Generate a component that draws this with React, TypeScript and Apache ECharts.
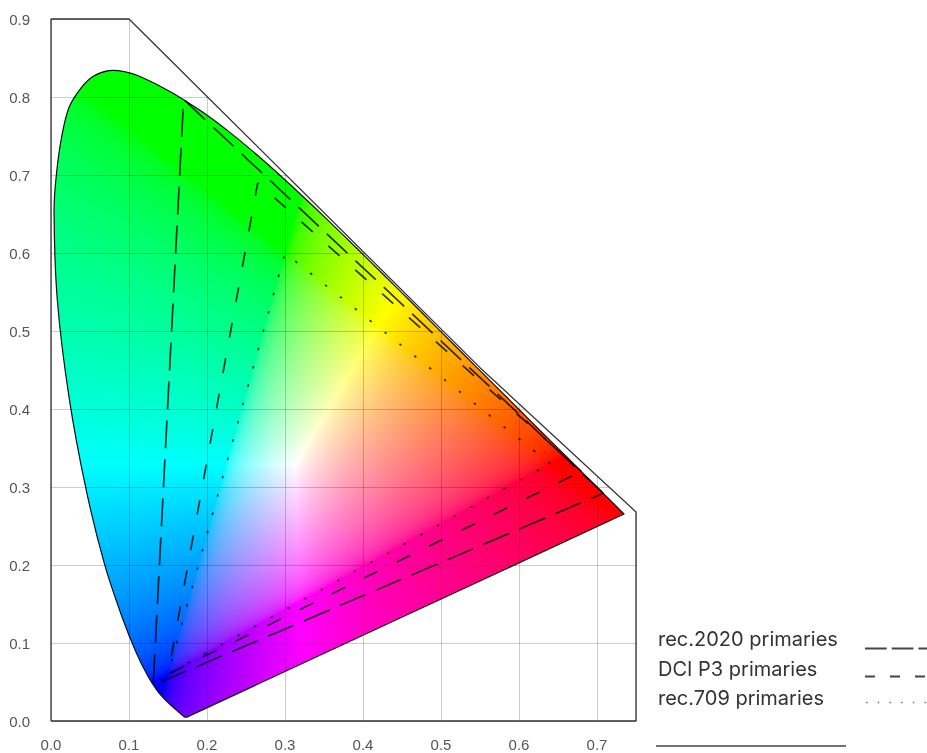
import React, { useEffect, useRef } from 'react';
import * as echarts from 'echarts';

// ---- data ----
const X_TICKS = ['0.0', '0.1', '0.2', '0.3', '0.4', '0.5', '0.6', '0.7'];
const Y_TICKS = ['0.0', '0.1', '0.2', '0.3', '0.4', '0.5', '0.6', '0.7', '0.8', '0.9'];

// CIE 1931 2° spectral locus (chromaticity x, y), 380–700 nm
const LOCUS: [number, number][] = [
  [0.1741, 0.005], [0.174, 0.005], [0.1738, 0.0049], [0.1736, 0.0049], [0.1733, 0.0048],
  [0.173, 0.0048], [0.1726, 0.0048], [0.1721, 0.0048], [0.1714, 0.0051], [0.1703, 0.0058],
  [0.1689, 0.0069], [0.1669, 0.0086], [0.1644, 0.0109], [0.1611, 0.0138], [0.1566, 0.0177],
  [0.151, 0.0227], [0.144, 0.0297], [0.1355, 0.0399], [0.1241, 0.0578], [0.1096, 0.0868],
  [0.0913, 0.1327], [0.0687, 0.2007], [0.0454, 0.295], [0.0235, 0.4127], [0.0082, 0.5384],
  [0.0039, 0.6548], [0.0072, 0.7035], [0.0139, 0.7502], [0.0232, 0.7868], [0.0389, 0.812],
  [0.0548, 0.8268], [0.0743, 0.8338], [0.094, 0.8325], [0.1142, 0.8262],
  [0.1547, 0.8059], [0.1929, 0.7816], [0.2296, 0.7543], [0.2658, 0.7243], [0.3016, 0.6923],
  [0.3373, 0.6589], [0.3731, 0.6245], [0.4087, 0.5896], [0.4441, 0.5547], [0.4788, 0.5202],
  [0.5125, 0.4866], [0.5448, 0.4544], [0.5752, 0.4242], [0.6029, 0.3965], [0.627, 0.3725],
  [0.6482, 0.3514], [0.6658, 0.334], [0.6801, 0.3197], [0.6915, 0.3083], [0.7006, 0.2993],
  [0.7079, 0.292], [0.714, 0.2859], [0.719, 0.2809], [0.723, 0.277], [0.726, 0.274],
  [0.7283, 0.2717], [0.73, 0.27], [0.7311, 0.2689], [0.732, 0.268], [0.7327, 0.2673],
  [0.7334, 0.2666], [0.734, 0.266], [0.7344, 0.2656], [0.7346, 0.2654], [0.7347, 0.2653],
];

const REC2020: [number, number][] = [[0.708, 0.292], [0.17, 0.797], [0.131, 0.046], [0.708, 0.292]];
const DCIP3: [number, number][] = [[0.68, 0.32], [0.265, 0.69], [0.15, 0.06], [0.68, 0.32]];
const REC709: [number, number][] = [[0.64, 0.33], [0.3, 0.6], [0.15, 0.06], [0.64, 0.33]];

const LEGEND_LABELS = ['rec.2020 primaries', 'DCI P3 primaries', 'rec.709 primaries'];

// ---- decoration geometry ----
const FRAME: [number, number][] = [[0, 0], [0, 0.9], [0.1, 0.9], [0.55, 0.453], [0.75, 0.268], [0.75, 0], [0, 0]];
const MASK: [number, number][] = [[0.1, 0.9], [0.55, 0.453], [0.75, 0.268], [0.78, 0.268], [0.78, 0.93], [0.1, 0.93]];
const X_MAX = 0.75;
const Y_MAX = 0.9;
const SMOOTH = 0.33;

function gammaEnc(c: number) {
  return c <= 0.0031308 ? 12.92 * c : 1.055 * Math.pow(c, 1 / 2.4) - 0.055;
}

function buildFill(): string {
  const S = 1000;
  const W = Math.round(X_MAX * S);
  const H = Math.round(Y_MAX * S);
  const canvas = document.createElement('canvas');
  canvas.width = W;
  canvas.height = H;
  const ctx = canvas.getContext('2d')!;
  const img = ctx.createImageData(W, H);
  const d = img.data;
  for (let j = 0; j < H; j++) {
    const y = (H - j - 0.5) / S;
    for (let i = 0; i < W; i++) {
      const x = (i + 0.5) / S;
      const X = x / y;
      const Z = (1 - x - y) / y;
      let r = 3.2406 * X - 1.5372 - 0.4986 * Z;
      let g = -0.9689 * X + 1.8758 + 0.0415 * Z;
      let b = 0.0557 * X - 0.204 + 1.057 * Z;
      r = Math.max(0, r); g = Math.max(0, g); b = Math.max(0, b);
      const m = Math.max(r, g, b) || 1;
      const k = (j * W + i) * 4;
      d[k] = Math.round(255 * gammaEnc(r / m));
      d[k + 1] = Math.round(255 * gammaEnc(g / m));
      d[k + 2] = Math.round(255 * gammaEnc(b / m));
      d[k + 3] = 255;
    }
  }
  ctx.putImageData(img, 0, 0);
  return canvas.toDataURL('image/png');
}

export default function App() {
  const ref = useRef<HTMLDivElement>(null);
  useEffect(() => {
    if (!ref.current) return;
    const chart = echarts.init(ref.current, undefined, { renderer: 'svg' });
    const fillUrl = buildFill();
    const lineColor = 'rgba(0,0,0,0.78)';
    const axisLabel = (ticks: string[]) => ({
      fontFamily: 'Liberation Sans, Arial, sans-serif',
      fontSize: 15,
      color: '#555',
      formatter: (v: number) => {
        const idx = Math.round(v * 10);
        return Math.abs(v * 10 - idx) < 1e-6 && ticks[idx] !== undefined ? ticks[idx] : '';
      },
    });
    chart.setOption({
      animation: false,
      grid: { left: 51, top: 19, right: 291, bottom: 32, containLabel: false },
      xAxis: {
        type: 'value', min: 0, max: X_MAX, interval: 0.1, z: 3,
        axisLine: { show: false }, axisTick: { show: false },
        splitLine: { show: true, lineStyle: { color: 'rgba(0,0,0,0.2)', width: 1 } },
        axisLabel: { ...axisLabel(X_TICKS), margin: 16 },
      },
      yAxis: {
        type: 'value', min: 0, max: Y_MAX, interval: 0.1, z: 3,
        axisLine: { show: false }, axisTick: { show: false },
        splitLine: { show: true, lineStyle: { color: 'rgba(0,0,0,0.2)', width: 1 } },
        axisLabel: { ...axisLabel(Y_TICKS), margin: 21 },
      },
      series: [
        {
          type: 'custom', coordinateSystem: 'cartesian2d', z: 1, silent: true, clip: false,
          data: [[0, 0]],
          renderItem: (_p: any, api: any) => {
            const pts = LOCUS.map((p) => api.coord(p));
            const tl = api.coord([0, Y_MAX]);
            const br = api.coord([X_MAX, 0]);
            return {
              type: 'image',
              style: { image: fillUrl, x: tl[0], y: tl[1], width: br[0] - tl[0], height: br[1] - tl[1] },
              clipPath: { type: 'polygon', shape: { points: pts, smooth: SMOOTH } },
            };
          },
        },
        {
          type: 'custom', coordinateSystem: 'cartesian2d', z: 4, silent: true, clip: false,
          data: [[0, 0]],
          renderItem: (_p: any, api: any) => ({
            type: 'polygon',
            shape: { points: MASK.map((p) => api.coord(p)) },
            style: { fill: '#ffffff', stroke: null },
          }),
        },
        {
          type: 'line', data: FRAME, z: 5, clip: false, symbol: 'none', silent: true,
          lineStyle: { color: '#333', width: 1.3 },
        },
        {
          type: 'custom', coordinateSystem: 'cartesian2d', z: 6, silent: true, clip: false,
          data: [[0, 0]],
          renderItem: (_p: any, api: any) => ({
            type: 'polygon',
            shape: { points: LOCUS.map((p) => api.coord(p)), smooth: SMOOTH },
            style: { fill: 'none', stroke: '#111', lineWidth: 1.2 },
          }),
        },
        {
          name: LEGEND_LABELS[0], type: 'line', data: REC2020, z: 7, symbol: 'none', silent: true,
          lineStyle: { color: lineColor, width: 1.7, type: [28, 11] },
        },
        {
          name: LEGEND_LABELS[1], type: 'line', data: DCIP3, z: 7, symbol: 'none', silent: true,
          lineStyle: { color: lineColor, width: 1.7, type: [15, 21] },
        },
        {
          name: LEGEND_LABELS[2], type: 'line', data: REC709, z: 7, symbol: 'none', silent: true,
          lineStyle: { color: lineColor, width: 1.7, type: [2.5, 16.5] },
        },
      ],
      graphic: [
        ...LEGEND_LABELS.map((t, i) => ({
          type: 'text', left: 658, top: 629 + i * 29.5,
          style: { text: t, fontFamily: 'Inter, sans-serif', fontSize: 20, fill: '#333' },
        })),
        { type: 'line', shape: { x1: 865, y1: 648.5, x2: 927, y2: 648.5 }, style: { stroke: '#444', lineWidth: 2, lineDash: [21.7, 5] } },
        { type: 'line', shape: { x1: 865, y1: 676.5, x2: 927, y2: 676.5 }, style: { stroke: '#444', lineWidth: 2, lineDash: [10, 15] } },
        { type: 'line', shape: { x1: 866, y1: 702.5, x2: 927, y2: 702.5 }, style: { stroke: '#777', lineWidth: 1.6, lineDash: [1.6, 10.1] } },
        { type: 'line', shape: { x1: 656, y1: 746, x2: 846, y2: 746 }, style: { stroke: '#444', lineWidth: 1.5 } },
      ],
    });
    return () => chart.dispose();
  }, []);
  return <div ref={ref} style={{ position: 'fixed', left: 0, top: 0, width: 927, height: 753 }} />;
}
